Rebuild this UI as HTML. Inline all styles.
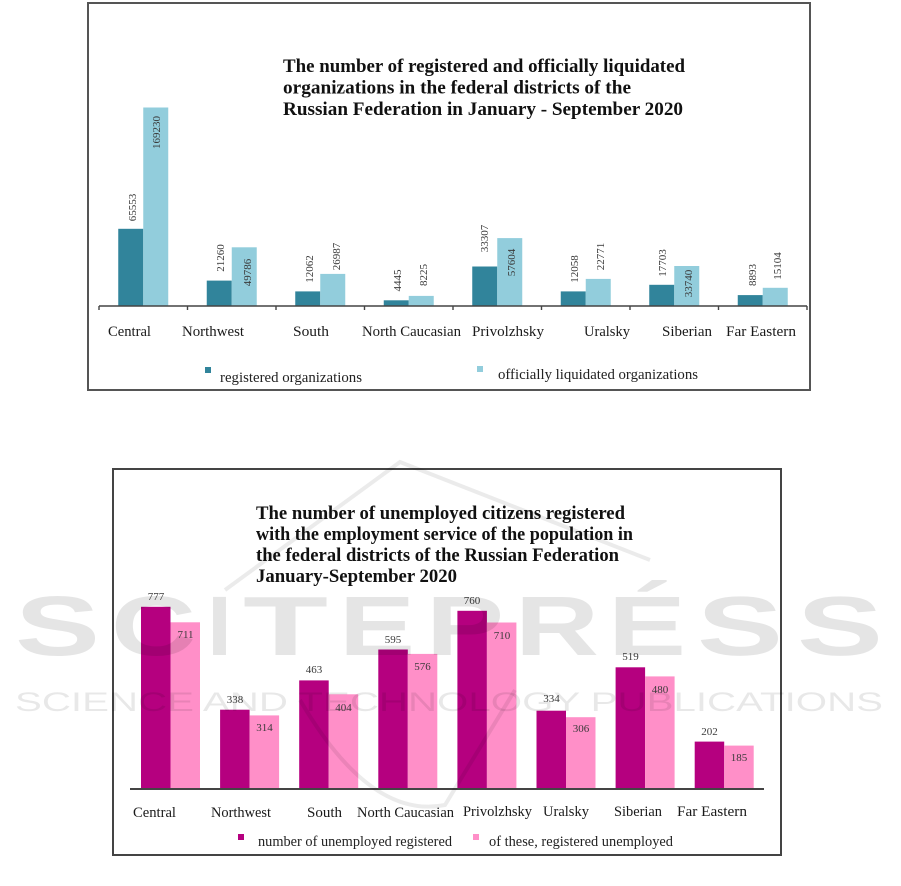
<!DOCTYPE html>
<html>
<head>
<meta charset="utf-8">
<style>
  html,body{margin:0;padding:0;background:#fff;}
  svg{display:block;}
  .serif{font-family:"Liberation Serif","Times New Roman",serif;}
  .t{font-family:"Liberation Serif",serif;font-weight:bold;font-size:18.7px;fill:#111;}
  .cat{font-family:"Liberation Serif",serif;font-size:15px;fill:#1a1a1a;}
  .val{font-family:"Liberation Serif",serif;font-size:11px;fill:#3a3a3a;}
  .leg{font-family:"Liberation Serif",serif;font-size:14.5px;fill:#222;}
</style>
</head>
<body>
<svg width="901" height="886" viewBox="0 0 901 886" xmlns="http://www.w3.org/2000/svg">
  <rect x="0" y="0" width="901" height="886" fill="#fff"/>

  <!-- ================= CHART 1 ================= -->
  <rect x="88" y="3" width="722" height="387" fill="#fff" stroke="#555" stroke-width="2"/>

  <text class="t" x="283" y="72" textLength="402" lengthAdjust="spacingAndGlyphs">The number of registered and officially liquidated</text>
  <text class="t" x="283" y="93.5" textLength="348" lengthAdjust="spacingAndGlyphs">organizations in the federal districts of the</text>
  <text class="t" x="283" y="115" textLength="400" lengthAdjust="spacingAndGlyphs">Russian Federation in January - September 2020</text>

  <!-- dark bars -->
  <g fill="#31849b">
    <rect x="118.25" y="228.8" width="25" height="76.7"/>
    <rect x="206.75" y="280.6" width="25" height="24.9"/>
    <rect x="295.25" y="291.4" width="25" height="14.1"/>
    <rect x="383.75" y="300.3" width="25" height="5.2"/>
    <rect x="472.25" y="266.5" width="25" height="39.0"/>
    <rect x="560.75" y="291.4" width="25" height="14.1"/>
    <rect x="649.25" y="284.8" width="25" height="20.7"/>
    <rect x="737.75" y="295.1" width="25" height="10.4"/>
  </g>
  <!-- light bars -->
  <g fill="#92cddc">
    <rect x="143.25" y="107.5" width="25" height="198"/>
    <rect x="231.75" y="247.3" width="25" height="58.2"/>
    <rect x="320.25" y="273.9" width="25" height="31.6"/>
    <rect x="408.75" y="295.9" width="25" height="9.6"/>
    <rect x="497.25" y="238.1" width="25" height="67.4"/>
    <rect x="585.75" y="278.9" width="25" height="26.6"/>
    <rect x="674.25" y="266.0" width="25" height="39.5"/>
    <rect x="762.75" y="287.8" width="25" height="17.7"/>
  </g>

  <!-- axis -->
  <line x1="99" y1="306" x2="807" y2="306" stroke="#444" stroke-width="1.6"/>
  <g stroke="#444" stroke-width="1.4">
    <line x1="99" y1="306" x2="99" y2="310"/>
    <line x1="187.5" y1="306" x2="187.5" y2="310"/>
    <line x1="276" y1="306" x2="276" y2="310"/>
    <line x1="364.5" y1="306" x2="364.5" y2="310"/>
    <line x1="453" y1="306" x2="453" y2="310"/>
    <line x1="541.5" y1="306" x2="541.5" y2="310"/>
    <line x1="630" y1="306" x2="630" y2="310"/>
    <line x1="718.5" y1="306" x2="718.5" y2="310"/>
    <line x1="807" y1="306" x2="807" y2="310"/>
  </g>

  <!-- rotated value labels -->
  <g class="val" text-anchor="middle">
    <text transform="translate(132,207.5) rotate(-90)" dy="0.35em">65553</text>
    <text transform="translate(156,132.5) rotate(-90)" dy="0.35em">169230</text>
    <text transform="translate(220,258) rotate(-90)" dy="0.35em">21260</text>
    <text transform="translate(247,272.5) rotate(-90)" dy="0.35em">49786</text>
    <text transform="translate(309,269) rotate(-90)" dy="0.35em">12062</text>
    <text transform="translate(336,256.5) rotate(-90)" dy="0.35em">26987</text>
    <text transform="translate(397,280.5) rotate(-90)" dy="0.35em">4445</text>
    <text transform="translate(423,275) rotate(-90)" dy="0.35em">8225</text>
    <text transform="translate(484,238.5) rotate(-90)" dy="0.35em">33307</text>
    <text transform="translate(511,262.5) rotate(-90)" dy="0.35em">57604</text>
    <text transform="translate(574,269) rotate(-90)" dy="0.35em">12058</text>
    <text transform="translate(600,256.5) rotate(-90)" dy="0.35em">22771</text>
    <text transform="translate(662,263) rotate(-90)" dy="0.35em">17703</text>
    <text transform="translate(688,283.5) rotate(-90)" dy="0.35em">33740</text>
    <text transform="translate(752,275) rotate(-90)" dy="0.35em">8893</text>
    <text transform="translate(777,266) rotate(-90)" dy="0.35em">15104</text>
  </g>

  <!-- categories -->
  <g class="cat">
    <text x="108" y="336" textLength="43" lengthAdjust="spacingAndGlyphs">Central</text>
    <text x="182" y="336" textLength="62" lengthAdjust="spacingAndGlyphs">Northwest</text>
    <text x="293" y="336" textLength="36" lengthAdjust="spacingAndGlyphs">South</text>
    <text x="362" y="336" textLength="99" lengthAdjust="spacingAndGlyphs">North Caucasian</text>
    <text x="472" y="336" textLength="72" lengthAdjust="spacingAndGlyphs">Privolzhsky</text>
    <text x="584" y="336" textLength="46" lengthAdjust="spacingAndGlyphs">Uralsky</text>
    <text x="662" y="336" textLength="50" lengthAdjust="spacingAndGlyphs">Siberian</text>
    <text x="726" y="336" textLength="70" lengthAdjust="spacingAndGlyphs">Far Eastern</text>
  </g>

  <!-- legend 1 -->
  <rect x="205" y="367" width="6" height="6" fill="#31849b"/>
  <text class="leg" x="220" y="382" textLength="142" lengthAdjust="spacingAndGlyphs">registered organizations</text>
  <rect x="477" y="366" width="6" height="6" fill="#92cddc"/>
  <text class="leg" x="498" y="379" textLength="200" lengthAdjust="spacingAndGlyphs">officially liquidated organizations</text>

  <!-- ================= CHART 2 ================= -->
  <rect x="113" y="469" width="668" height="386" fill="#fff" stroke="#444" stroke-width="2"/>

  <text class="t" x="256" y="519" textLength="369" lengthAdjust="spacingAndGlyphs">The number of unemployed citizens registered</text>
  <text class="t" x="256" y="540" textLength="377" lengthAdjust="spacingAndGlyphs">with the employment service of the population in</text>
  <text class="t" x="256" y="561" textLength="363" lengthAdjust="spacingAndGlyphs">the federal districts of the Russian Federation</text>
  <text class="t" x="256" y="582" textLength="201" lengthAdjust="spacingAndGlyphs">January-September 2020</text>

  <g fill="#b5007f">
    <rect x="141" y="606.8" width="29.5" height="182.2"/>
    <rect x="220.1" y="709.7" width="29.5" height="79.3"/>
    <rect x="299.2" y="680.4" width="29.5" height="108.6"/>
    <rect x="378.3" y="649.5" width="29.5" height="139.5"/>
    <rect x="457.4" y="610.8" width="29.5" height="178.2"/>
    <rect x="536.5" y="710.7" width="29.5" height="78.3"/>
    <rect x="615.6" y="667.3" width="29.5" height="121.7"/>
    <rect x="694.7" y="741.6" width="29.5" height="47.4"/>
  </g>
  <g fill="#ff8fc8">
    <rect x="170.5" y="622.3" width="29.5" height="166.7"/>
    <rect x="249.6" y="715.4" width="29.5" height="73.6"/>
    <rect x="328.7" y="694.3" width="29.5" height="94.7"/>
    <rect x="407.8" y="653.9" width="29.5" height="135.1"/>
    <rect x="486.9" y="622.5" width="29.5" height="166.5"/>
    <rect x="566.0" y="717.2" width="29.5" height="71.8"/>
    <rect x="645.1" y="676.4" width="29.5" height="112.6"/>
    <rect x="724.2" y="745.6" width="29.5" height="43.4"/>
  </g>

  <line x1="130" y1="789" x2="764" y2="789" stroke="#444" stroke-width="2"/>

  <g class="val" text-anchor="middle">
    <text x="156" y="600">777</text>
    <text x="185.5" y="638">711</text>
    <text x="235" y="703">338</text>
    <text x="264.5" y="731">314</text>
    <text x="314" y="673">463</text>
    <text x="343.5" y="711">404</text>
    <text x="393" y="643">595</text>
    <text x="422.5" y="670">576</text>
    <text x="472" y="604">760</text>
    <text x="502" y="639">710</text>
    <text x="551.5" y="702">334</text>
    <text x="581" y="732">306</text>
    <text x="630.5" y="660">519</text>
    <text x="660" y="693">480</text>
    <text x="709.5" y="735">202</text>
    <text x="739" y="761">185</text>
  </g>

  <g class="cat">
    <text x="133" y="817" textLength="43" lengthAdjust="spacingAndGlyphs">Central</text>
    <text x="211" y="817" textLength="60" lengthAdjust="spacingAndGlyphs">Northwest</text>
    <text x="307" y="817" textLength="35" lengthAdjust="spacingAndGlyphs">South</text>
    <text x="357" y="817" textLength="97" lengthAdjust="spacingAndGlyphs">North Caucasian</text>
    <text x="463" y="816" textLength="69" lengthAdjust="spacingAndGlyphs">Privolzhsky</text>
    <text x="543" y="816" textLength="46" lengthAdjust="spacingAndGlyphs">Uralsky</text>
    <text x="614" y="816" textLength="48" lengthAdjust="spacingAndGlyphs">Siberian</text>
    <text x="677" y="816" textLength="70" lengthAdjust="spacingAndGlyphs">Far  Eastern</text>
  </g>

  <rect x="238" y="834" width="6" height="6" fill="#b5007f"/>
  <text class="leg" x="258" y="846" textLength="194" lengthAdjust="spacingAndGlyphs">number of unemployed registered</text>
  <rect x="473" y="834" width="6" height="6" fill="#ff8fc8"/>
  <text class="leg" x="489" y="846" textLength="184" lengthAdjust="spacingAndGlyphs">of these, registered unemployed</text>

  <!-- ================= WATERMARK ================= -->
  <g fill="none" stroke="rgba(0,0,0,0.08)" stroke-width="4">
    <polyline points="225,590 400,462 650,560"/>
    <path d="M300,700 Q370,820 445,805 L515,690"/>
  </g>
  <g font-family="Liberation Sans, Arial, sans-serif" font-weight="bold" font-size="84" fill="rgba(0,0,0,0.1)">
    <text x="15" y="655" textLength="85" lengthAdjust="spacingAndGlyphs">S</text>
    <text x="111" y="655" textLength="85" lengthAdjust="spacingAndGlyphs">C</text>
    <text x="207" y="655" textLength="25" lengthAdjust="spacingAndGlyphs">I</text>
    <text x="243" y="655" textLength="85" lengthAdjust="spacingAndGlyphs">T</text>
    <text x="339" y="655" textLength="76" lengthAdjust="spacingAndGlyphs">E</text>
    <text x="426" y="655" textLength="78" lengthAdjust="spacingAndGlyphs">P</text>
    <text x="515" y="655" textLength="84" lengthAdjust="spacingAndGlyphs">R</text>
    <text x="608" y="655" textLength="78" lengthAdjust="spacingAndGlyphs">É</text>
    <text x="697" y="655" textLength="86" lengthAdjust="spacingAndGlyphs">S</text>
    <text x="797" y="655" textLength="86" lengthAdjust="spacingAndGlyphs">S</text>
  </g>
  <text x="15" y="711" font-family="Liberation Sans, Arial, sans-serif" font-size="26.5" fill="rgba(0,0,0,0.09)" textLength="868" lengthAdjust="spacingAndGlyphs">SCIENCE AND TECHNOLOGY PUBLICATIONS</text>
</svg>
</body>
</html>
